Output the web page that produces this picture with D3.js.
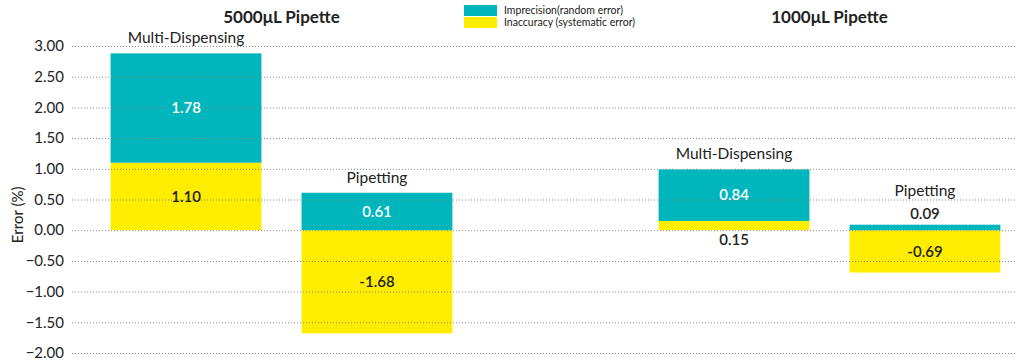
<!DOCTYPE html>
<html>
<head>
<meta charset="utf-8">
<script src="https://cdn.jsdelivr.net/npm/d3@7"></script>
<style>
  body { margin: 0; background: #fff; }
  text { font-family: Lato, "Open Sans", sans-serif; fill: #222; }
</style>
</head>
<body>
<div id="canvas"></div>
<script>
// data
const groups = ["5000μL Pipette", "1000μL Pipette"];
const modes = ["Multi-Dispensing", "Pipetting"];
const imprecision = [[1.78, 0.61], [0.84, 0.09]];
const inaccuracy = [[1.10, -1.68], [0.15, -0.69]];
const yTicks = [3, 2.5, 2, 1.5, 1, 0.5, 0, -0.5, -1, -1.5, -2];
const legendLabels = ["Imprecision(random error)", "Inaccuracy (systematic error)"];

const width = 1024, height = 361;
const teal = "#00b6bd", yellow = "#ffed00";

const svg = d3.select("#canvas").append("svg")
  .attr("width", width).attr("height", height);

const y = d3.scaleLinear().domain([-2, 3]).range([353, 46]);
const xg = d3.scalePoint().domain(groups).range([281.5, 829.5]);
const xi = d3.scaleBand().domain(modes).range([-190, 190])
  .paddingInner(0.21).paddingOuter(0.1);

// build bars: inaccuracy stacked first, imprecision on top when both positive
const bars = [];
groups.forEach((g, gi) => {
  modes.forEach((m, mi) => {
    const acc = inaccuracy[gi][mi], imp = imprecision[gi][mi];
    const segs = [];
    if (acc >= 0) {
      segs.push({ v: acc, y0: 0, y1: acc, color: yellow, pos: "bottom" });
      segs.push({ v: imp, y0: acc, y1: acc + imp, color: teal, pos: "top" });
    } else {
      segs.push({ v: acc, y0: acc, y1: 0, color: yellow, pos: "neg" });
      segs.push({ v: imp, y0: 0, y1: imp, color: teal, pos: "top" });
    }
    bars.push({ g, m, segs, cx: xg(g) + xi(m) + xi.bandwidth() / 2 });
  });
});

const gBars = svg.append("g");
bars.forEach(b => {
  gBars.selectAll(null).data(b.segs).enter().append("rect")
    .attr("x", b.cx - xi.bandwidth() / 2)
    .attr("width", xi.bandwidth())
    .attr("y", d => y(d.y1))
    .attr("height", d => y(d.y0) - y(d.y1))
    .attr("fill", d => d.color);
});

// grid lines on top of the bars
svg.append("g")
  .attr("transform", "translate(72,0)")
  .call(d3.axisLeft(y).tickValues(yTicks).tickSize(-943).tickFormat(""))
  .call(g => g.select(".domain").remove())
  .call(g => g.selectAll("line").attr("stroke", "#888").attr("stroke-width", 1)
    .attr("stroke-dasharray", "1,2"));

// tick labels
svg.append("g").selectAll("text").data(yTicks).enter().append("text")
  .attr("x", 64).attr("y", d => y(d)).attr("dy", "0.35em")
  .attr("text-anchor", "end").style("font-size", "15px")
  .text(d => d3.format(".2f")(d));

svg.append("text")
  .attr("transform", `translate(23,${y(0.25)}) rotate(-90)`)
  .attr("text-anchor", "middle").style("font-size", "15px")
  .text("Error (%)");

// value and category labels
bars.forEach(b => {
  let topY = y(d3.max(b.segs, d => d.y1));
  b.segs.forEach(s => {
    const h = Math.abs(y(s.y0) - y(s.y1));
    let ly, col = s.color === teal ? "#fff" : "#222";
    if (h >= 18) {
      ly = (y(s.y0) + y(s.y1)) / 2;
    } else if (s.pos === "bottom") {
      ly = y(0) + 10; col = "#222";
    } else {
      ly = y(s.y1) - 11; col = "#222";
      topY = ly - 8;
    }
    svg.append("text")
      .attr("x", b.cx).attr("y", ly).attr("dy", "0.35em")
      .attr("text-anchor", "middle").style("font-size", "15px")
      .style("font-weight", "600")
      .style("fill", col)
      .text(s.v.toFixed(2));
  });
  svg.append("text")
    .attr("x", b.cx).attr("y", topY - 10)
    .attr("text-anchor", "middle").style("font-size", "15.5px")
    .text(b.m);
});

// group titles
svg.selectAll(".title").data(groups).enter().append("text")
  .attr("x", d => xg(d)).attr("y", 23)
  .attr("text-anchor", "middle")
  .style("font-size", "17px").style("font-weight", "bold")
  .text(d => d);

// legend
const legend = svg.append("g").attr("transform", "translate(464,5)");
legend.selectAll("rect").data([teal, yellow]).enter().append("rect")
  .attr("x", 0).attr("y", (d, i) => i * 12).attr("width", 33).attr("height", 11)
  .attr("fill", d => d);
legend.selectAll("text").data(legendLabels).enter().append("text")
  .attr("x", 40).attr("y", (d, i) => i * 12 + 5.5).attr("dy", "0.35em")
  .style("font-size", "10.5px").text(d => d);
</script>
</body>
</html>
